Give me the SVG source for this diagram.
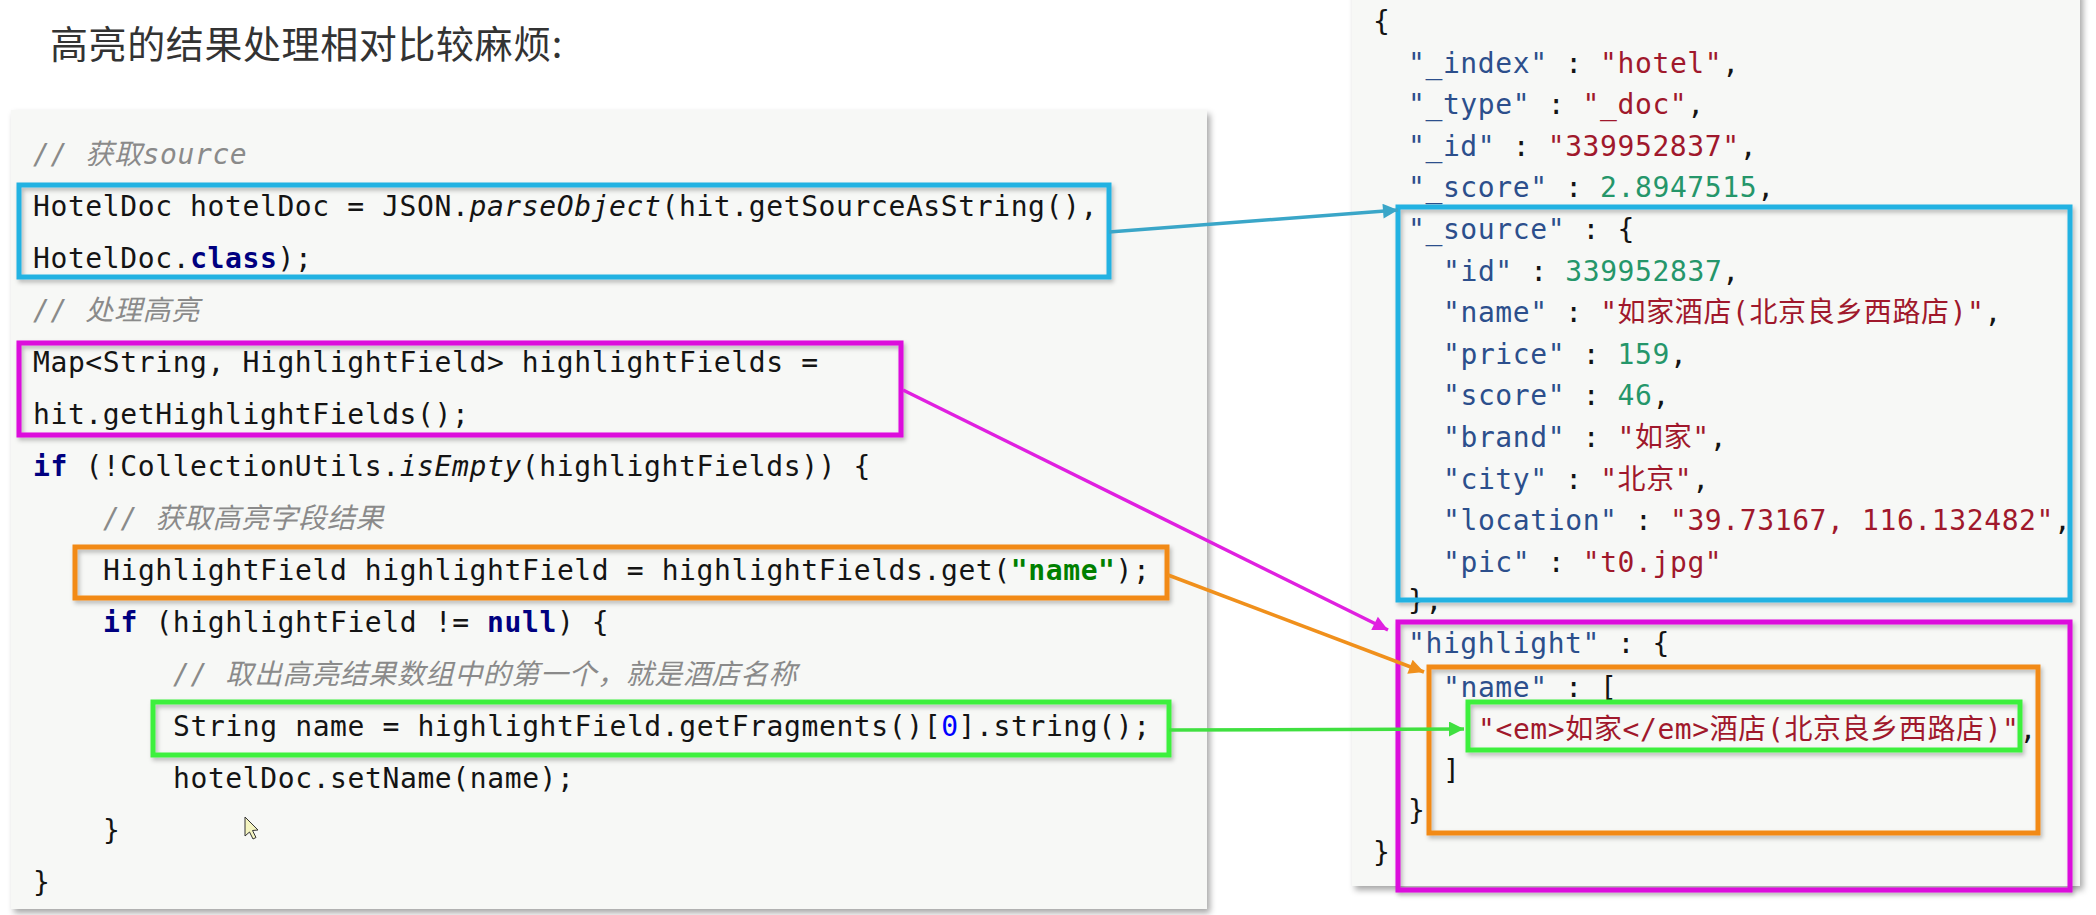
<svg xmlns="http://www.w3.org/2000/svg" width="2096" height="915" viewBox="0 0 2096 915">
<defs>
<style>
.title{font-family:"Noto Sans CJK SC","Noto Sans",sans-serif;font-size:38px;letter-spacing:0.6px;fill:#333;}
.code{font-family:"DejaVu Sans Mono","Noto Sans CJK SC",monospace;font-size:28px;letter-spacing:0.6px;fill:#141414;}
.cm{fill:#8a8a8a;font-style:italic;}
.kw{fill:#000080;font-weight:bold;}
.it{font-style:italic;}
.str{fill:#008000;font-weight:bold;}
.num{fill:#0000ff;}
.k{fill:#2c4f8c;}
.s{fill:#a0182c;}
.n{fill:#25966a;}
.panel{fill:#f7f8f6;}
.box{fill:none;stroke-width:5;}
.blue{stroke:#22b2e2;}
.mag{stroke:#dc0cdc;}
.ora{stroke:#f28a18;}
.grn{stroke:#3cf03c;}
.conn{fill:none;stroke-width:3.5;}
</style>
<filter id="psh" x="-5%" y="-5%" width="110%" height="110%">
<feDropShadow dx="3" dy="4" stdDeviation="3" flood-color="#000" flood-opacity="0.35"/>
</filter>
<filter id="bsh" x="-5%" y="-20%" width="110%" height="140%">
<feDropShadow dx="2" dy="3" stdDeviation="2" flood-color="#000" flood-opacity="0.25"/>
</filter>
<marker id="ah-blue" viewBox="0 0 10 10" refX="10" refY="5" markerUnits="userSpaceOnUse" markerWidth="20" markerHeight="15" orient="auto"><path d="M0,0 L10,5 L0,10 z" fill="#3aa6c8"/></marker>
<marker id="ah-mag" viewBox="0 0 10 10" refX="10" refY="5" markerUnits="userSpaceOnUse" markerWidth="20" markerHeight="15" orient="auto"><path d="M0,0 L10,5 L0,10 z" fill="#e020e0"/></marker>
<marker id="ah-ora" viewBox="0 0 10 10" refX="10" refY="5" markerUnits="userSpaceOnUse" markerWidth="20" markerHeight="15" orient="auto"><path d="M0,0 L10,5 L0,10 z" fill="#f0901c"/></marker>
<marker id="ah-grn" viewBox="0 0 10 10" refX="10" refY="5" markerUnits="userSpaceOnUse" markerWidth="20" markerHeight="15" orient="auto"><path d="M0,0 L10,5 L0,10 z" fill="#40e040"/></marker>
</defs>
<rect width="2096" height="915" fill="#ffffff"/>

<g id="title">
<text class="title" x="50" y="58">高亮的结果处理相对比较麻烦:</text>
</g>

<g id="code-panel">
<rect class="panel" x="11" y="110" width="1196" height="799" filter="url(#psh)"/>
<text class="code" x="33" y="164"><tspan class="cm">// 获取source</tspan></text>
<text class="code" x="33" y="216">HotelDoc hotelDoc = JSON.<tspan class="it">parseObject</tspan>(hit.getSourceAsString(),</text>
<text class="code" x="33" y="268">HotelDoc.<tspan class="kw">class</tspan>);</text>
<text class="code" x="33" y="320"><tspan class="cm">// 处理高亮</tspan></text>
<text class="code" x="33" y="372">Map&lt;String, HighlightField&gt; highlightFields =</text>
<text class="code" x="33" y="424">hit.getHighlightFields();</text>
<text class="code" x="33" y="476"><tspan class="kw">if</tspan> (!CollectionUtils.<tspan class="it">isEmpty</tspan>(highlightFields)) {</text>
<text class="code" x="103" y="528"><tspan class="cm">// 获取高亮字段结果</tspan></text>
<text class="code" x="103" y="580">HighlightField highlightField = highlightFields.get(<tspan class="str">"name"</tspan>);</text>
<text class="code" x="103" y="632"><tspan class="kw">if</tspan> (highlightField != <tspan class="kw">null</tspan>) {</text>
<text class="code" x="173" y="684"><tspan class="cm">// 取出高亮结果数组中的第一个，就是酒店名称</tspan></text>
<text class="code" x="173" y="736">String name = highlightField.getFragments()[<tspan class="num">0</tspan>].string();</text>
<text class="code" x="173" y="788">hotelDoc.setName(name);</text>
<text class="code" x="103" y="840">}</text>
<text class="code" x="33" y="892">}</text>
<path d="M245,817 L245,836 L249.5,832 L253,839 L256,837.5 L252.5,830.5 L258,830 Z" fill="#f4f4c0" stroke="#333" stroke-width="1"/>
</g>

<g id="json-panel">
<rect class="panel" x="1352" y="-10" width="728" height="896" filter="url(#psh)"/>
<text class="code" x="1373" y="31">{</text>
<text class="code" x="1408" y="72.6"><tspan class="k">"_index"</tspan> : <tspan class="s">"hotel"</tspan>,</text>
<text class="code" x="1408" y="114.2"><tspan class="k">"_type"</tspan> : <tspan class="s">"_doc"</tspan>,</text>
<text class="code" x="1408" y="155.8"><tspan class="k">"_id"</tspan> : <tspan class="s">"339952837"</tspan>,</text>
<text class="code" x="1408" y="197.4"><tspan class="k">"_score"</tspan> : <tspan class="n">2.8947515</tspan>,</text>
<text class="code" x="1408" y="239"><tspan class="k">"_source"</tspan> : {</text>
<text class="code" x="1443" y="280.6"><tspan class="k">"id"</tspan> : <tspan class="n">339952837</tspan>,</text>
<text class="code" x="1443" y="322.2"><tspan class="k">"name"</tspan> : <tspan class="s">"如家酒店(北京良乡西路店)"</tspan>,</text>
<text class="code" x="1443" y="363.8"><tspan class="k">"price"</tspan> : <tspan class="n">159</tspan>,</text>
<text class="code" x="1443" y="405.4"><tspan class="k">"score"</tspan> : <tspan class="n">46</tspan>,</text>
<text class="code" x="1443" y="447"><tspan class="k">"brand"</tspan> : <tspan class="s">"如家"</tspan>,</text>
<text class="code" x="1443" y="488.6"><tspan class="k">"city"</tspan> : <tspan class="s">"北京"</tspan>,</text>
<text class="code" x="1443" y="530.2"><tspan class="k">"location"</tspan> : <tspan class="s">"39.73167, 116.132482"</tspan>,</text>
<text class="code" x="1443" y="571.8"><tspan class="k">"pic"</tspan> : <tspan class="s">"t0.jpg"</tspan></text>
<text class="code" x="1408" y="610">},</text>
<text class="code" x="1408" y="653"><tspan class="k">"highlight"</tspan> : {</text>
<text class="code" x="1443" y="696.6"><tspan class="k">"name"</tspan> : [</text>
<text class="code" x="1478" y="739"><tspan class="s">"&lt;em&gt;如家&lt;/em&gt;酒店(北京良乡西路店)"</tspan>,</text>
<text class="code" x="1443" y="779.8">]</text>
<text class="code" x="1408" y="820">}</text>
<text class="code" x="1373" y="862">}</text>
</g>

<g id="node-source-code" filter="url(#bsh)">
<rect class="box blue" x="19" y="185" width="1090" height="92"/>
</g>
<g id="node-highlightfields-code" filter="url(#bsh)">
<rect class="box mag" x="19" y="343" width="882" height="92"/>
</g>
<g id="node-highlightfield-code" filter="url(#bsh)">
<rect class="box ora" x="75" y="547" width="1092" height="51"/>
</g>
<g id="node-name-code" filter="url(#bsh)">
<rect class="box grn" x="153" y="702" width="1016" height="53"/>
</g>
<g id="node-source-json" filter="url(#bsh)">
<rect class="box blue" x="1398" y="207" width="672" height="393"/>
</g>
<g id="node-highlight-json" filter="url(#bsh)">
<rect class="box mag" x="1398" y="622" width="672" height="268"/>
</g>
<g id="node-name-json" filter="url(#bsh)">
<rect class="box ora" x="1429" y="667" width="609" height="166"/>
</g>
<g id="node-fragment-json" filter="url(#bsh)">
<rect class="box grn" x="1468" y="702" width="552" height="48"/>
</g>

<g id="connectors">
<line class="conn" x1="1109" y1="232" x2="1398" y2="210" stroke="#3aa6c8" marker-end="url(#ah-blue)"/>
<line class="conn" x1="903" y1="390" x2="1388" y2="630" stroke="#e020e0" marker-end="url(#ah-mag)"/>
<line class="conn" x1="1168" y1="575" x2="1424" y2="672" stroke="#f0901c" marker-end="url(#ah-ora)"/>
<line class="conn" x1="1169" y1="730" x2="1464" y2="729" stroke="#40e040" marker-end="url(#ah-grn)"/>
</g>
</svg>
